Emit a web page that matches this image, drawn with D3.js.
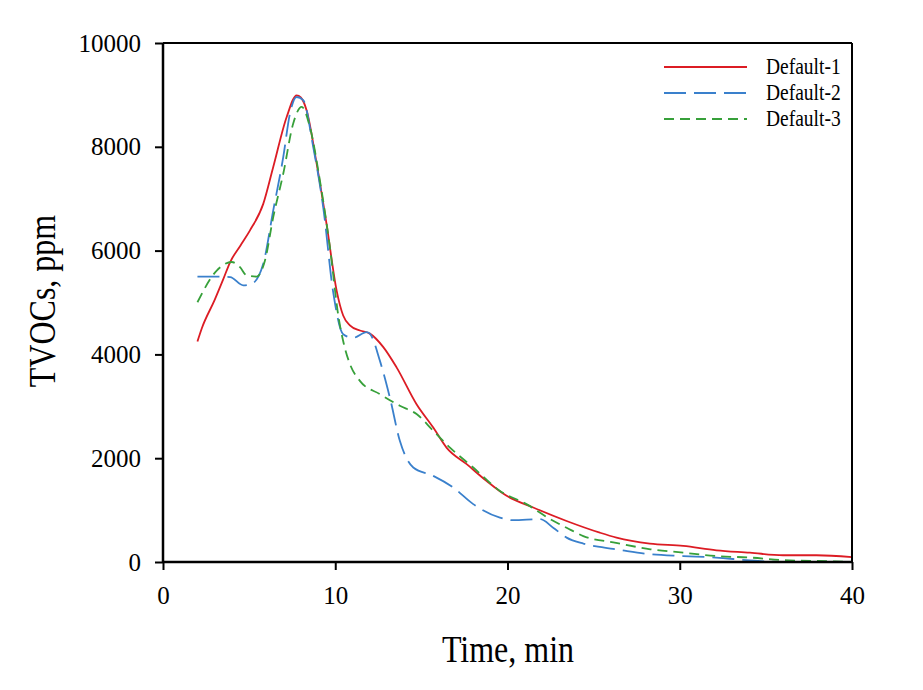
<!DOCTYPE html>
<html>
<head>
<meta charset="utf-8">
<script src="https://cdn.jsdelivr.net/npm/d3@7"></script>
<style>
  html, body { margin: 0; padding: 0; background: #fff; }
  svg { display: block; }
  text { font-family: "Liberation Serif", "Times New Roman", serif; fill: #000; }
</style>
</head>
<body>
<svg id="chart" width="923" height="690"></svg>
<script>
const seriesNames = ["Default-1", "Default-2", "Default-3"];

const d1Time   = [2.0, 2.25, 3.0, 3.5, 3.9, 4.5, 5.05, 5.82, 6.4, 7.18, 7.76, 8.0, 8.34, 8.92, 9.5, 10.08, 10.46, 10.85, 11.43, 12.01, 12.79, 13.56, 14.72, 15.69, 16.47, 17.63, 18.79, 19.95, 21.49, 23.43, 25.36, 26.33, 28.26, 30.2, 32.13, 34.07, 36.0, 37.94, 40.0];
const d1Values = [4250, 4500, 5050, 5450, 5780, 6100, 6390, 6900, 7610, 8575, 8990, 8950, 8700, 7675, 6500, 5230, 4750, 4560, 4460, 4400, 4140, 3750, 3040, 2590, 2200, 1885, 1560, 1275, 1050, 790, 565, 470, 355, 310, 225, 180, 130, 130, 95];

const d2Time   = [2.0, 3.3, 3.9, 4.66, 5.15, 5.82, 6.4, 6.98, 7.37, 7.76, 8.14, 8.72, 9.3, 9.88, 10.46, 11.04, 11.82, 12.01, 12.59, 13.17, 13.75, 14.53, 15.69, 16.85, 18.01, 19.56, 20.33, 21.9, 22.65, 23.43, 24.4, 25.36, 26.3, 28.3, 30.2, 32.1, 34.1, 36.0, 40.0];
const d2Values = [5500, 5500, 5490, 5330, 5360, 5745, 6775, 7800, 8640, 8960, 8900, 8000, 6840, 5200, 4390, 4320, 4430, 4400, 3880, 3170, 2335, 1820, 1660, 1435, 1115, 855, 805, 825, 660, 470, 355, 290, 245, 150, 115, 85, 30, 0, 0];

const d3Time   = [2.0, 3.12, 3.99, 4.47, 4.86, 5.44, 5.92, 6.4, 6.98, 7.56, 8.05, 8.53, 9.11, 9.69, 10.2, 10.5, 10.85, 11.43, 12.59, 13.75, 14.72, 15.69, 16.66, 18.01, 19.56, 21.1, 22.46, 23.43, 24.4, 26.3, 28.3, 30.2, 32.1, 34.1, 36.0, 37.9, 40.0];
const d3Values = [5005, 5615, 5780, 5680, 5520, 5500, 5810, 6645, 7480, 8450, 8770, 8380, 7350, 6065, 4700, 4200, 3815, 3490, 3235, 3010, 2850, 2530, 2205, 1820, 1370, 1115, 830, 660, 500, 370, 245, 180, 115, 85, 35, 20, 0];

const xTicks = [0, 10, 20, 30, 40];
const yTicks = [0, 2000, 4000, 6000, 8000, 10000];

const seriesColors = ["#dc1c24", "#3a80cc", "#37a03a"];
const seriesDashes = [null, "22,8", "10,6"];

const svg = d3.select("#chart");
const margin = { left: 163, right: 923 - 852, top: 43, bottom: 690 - 562 };
const W = 923, H = 690;

const x = d3.scaleLinear().domain([0, 40]).range([margin.left, W - margin.right]);
const y = d3.scaleLinear().domain([0, 10000]).range([H - margin.bottom, margin.top]);

const series = [
  { name: seriesNames[0], t: d1Time, v: d1Values },
  { name: seriesNames[1], t: d2Time, v: d2Values },
  { name: seriesNames[2], t: d3Time, v: d3Values }
];

const line = d3.line()
  .x(d => x(d[0]))
  .y(d => y(d[1]))
  .curve(d3.curveMonotoneX);

series.forEach((s, i) => {
  svg.append("path")
    .datum(s.t.map((t, j) => [t, s.v[j]]))
    .attr("d", line)
    .attr("fill", "none")
    .attr("stroke", seriesColors[i])
    .attr("stroke-width", 1.8)
    .attr("stroke-dasharray", seriesDashes[i]);
});

// frame (top & right)
svg.append("line")
  .attr("x1", x(0)).attr("x2", x(40)).attr("y1", y(10000)).attr("y2", y(10000))
  .attr("stroke", "#000").attr("stroke-width", 2);
svg.append("line")
  .attr("x1", x(40)).attr("x2", x(40)).attr("y1", y(0)).attr("y2", y(10000))
  .attr("stroke", "#000").attr("stroke-width", 2);

// axes
const xAxis = d3.axisBottom(x).tickValues(xTicks).tickSize(8).tickPadding(16).tickFormat(d3.format("d"));
const yAxis = d3.axisLeft(y).tickValues(yTicks).tickSize(8).tickPadding(14).tickFormat(d3.format("d"));

const gx = svg.append("g").attr("transform", `translate(0,${y(0)})`).call(xAxis);
const gy = svg.append("g").attr("transform", `translate(${x(0)},0)`).call(yAxis);

[gx, gy].forEach(g => {
  g.select(".domain").attr("stroke", "#000").attr("stroke-width", 2.5);
  g.selectAll(".tick line").attr("stroke", "#000").attr("stroke-width", 2);
  g.selectAll(".tick text")
    .style("font-family", "'Liberation Serif', 'Times New Roman', serif")
    .style("font-size", "25px")
    .attr("fill", "#000");
});
gy.select(".domain").attr("d", `M0,${y(0)}V${y(10000)}`);
gx.select(".domain").attr("d", `M${x(0)},0H${x(40)}`);

// axis titles (slightly stretched vertically like the original export)
svg.append("text")
  .attr("transform", "translate(508,662) scale(1,1.18)")
  .attr("text-anchor", "middle")
  .style("font-size", "32px")
  .text("Time, min");

svg.append("text")
  .attr("transform", "translate(55,301) rotate(-90) scale(1,1.18)")
  .attr("text-anchor", "middle")
  .style("font-size", "32px")
  .text("TVOCs, ppm");

// legend
const legendY = [67, 93, 119];
series.forEach((s, i) => {
  svg.append("line")
    .attr("x1", 664).attr("x2", 747)
    .attr("y1", legendY[i]).attr("y2", legendY[i])
    .attr("stroke", seriesColors[i])
    .attr("stroke-width", 1.8)
    .attr("stroke-dasharray", seriesDashes[i]);
  svg.append("text")
    .attr("transform", `translate(766,${legendY[i] + 7}) scale(1,1.18)`)
    .style("font-size", "19.5px")
    .text(s.name);
});
</script>
</body>
</html>
